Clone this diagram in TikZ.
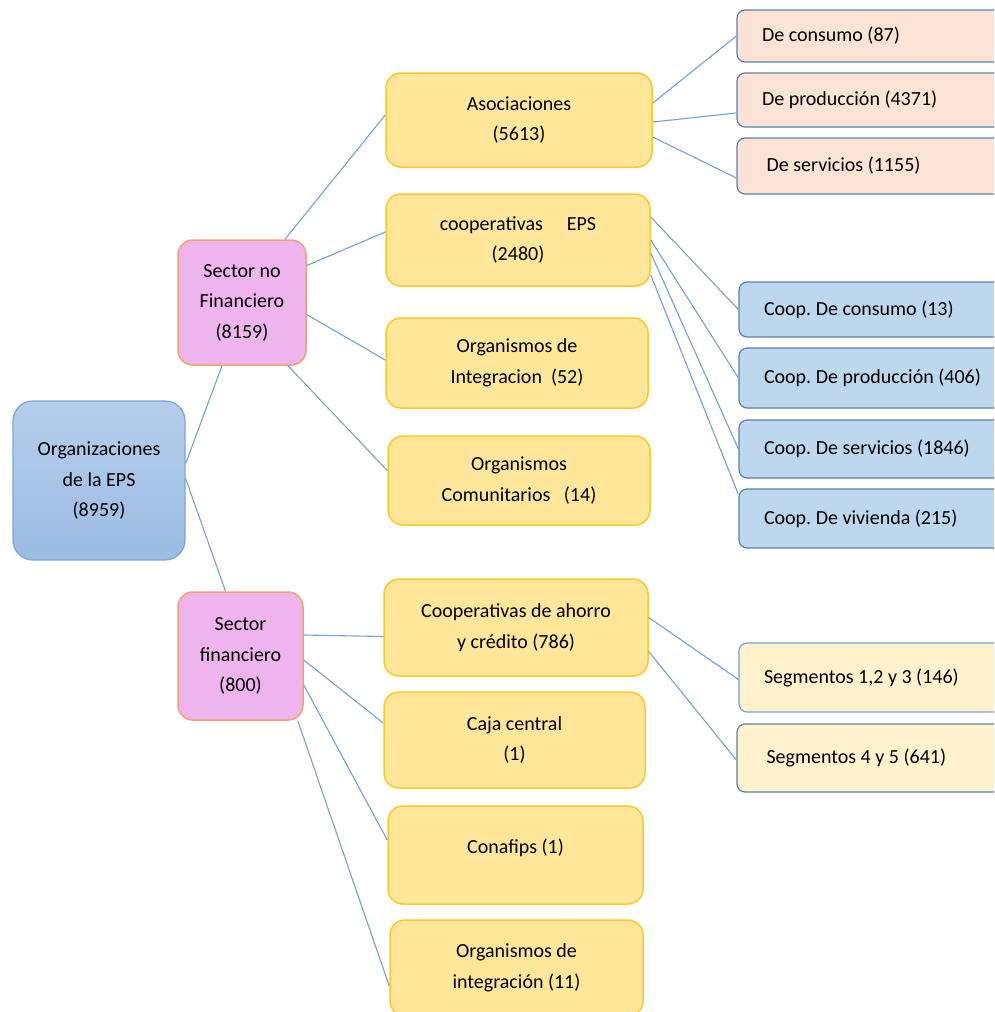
\documentclass[tikz,border=0pt]{standalone}
\usepackage{fontspec}
\setmainfont{Carlito}
\frenchspacing
\definecolor{linkblue}{HTML}{6FA3D8}
\definecolor{goldfill}{HTML}{FFE699}
\definecolor{golddraw}{HTML}{FFC829}
\definecolor{pinkfill}{HTML}{EEB4EE}
\definecolor{pinkdraw}{HTML}{F2A26E}
\definecolor{peachfill}{HTML}{FBE3D6}
\definecolor{slatedraw}{HTML}{5A80AC}
\definecolor{skyfill}{HTML}{BDD7EE}
\definecolor{creamfill}{HTML}{FFF2CC}
\definecolor{rootdraw}{HTML}{7EA6D6}
\definecolor{roottop}{HTML}{B6CEEB}
\definecolor{rootbottom}{HTML}{9BBCE2}
\tikzset{
  box/.style={rectangle, align=flush center, inner sep=0pt,
    font=\fontsize{20}{30.5}\selectfont},
  rootbox/.style={box, rounded corners=20pt, draw=rootdraw, line width=1.3pt,
    top color=roottop, bottom color=rootbottom},
  sectorbox/.style={box, rounded corners=15pt, fill=pinkfill, draw=pinkdraw, line width=1.5pt},
  goldbox/.style={box, rounded corners=15pt, fill=goldfill, draw=golddraw, line width=1.5pt},
  leafbox/.style={box, rounded corners=8pt, draw=slatedraw, line width=1.2pt,
    minimum width=275pt, text width=225pt, align=flush left},
  link/.style={draw=linkblue, line width=1.1pt}
}
\begin{document}
\begin{tikzpicture}[x=1pt,y=-1pt]
  \useasboundingbox (0,0) rectangle (994,1012);
  \clip (0,0) rectangle (994,1012);
  % first and second level
  \node[rootbox, minimum width=172pt, minimum height=159pt] (root) at (99,480.5) {Organizaciones\\de la EPS\\(8959)};
  \node[sectorbox, minimum width=128pt, minimum height=125pt] (snf) at (242,302.5) {Sector no\\Financiero\\(8159)};
  \node[sectorbox, minimum width=125pt, minimum height=128pt] (sf) at (240.5,656) {Sector\\financiero\\(800)};
  % third level
  \node[goldbox, minimum width=266pt, minimum height=94pt] (asoc) at (519,120) {Asociaciones\\(5613)};
  \node[goldbox, minimum width=264pt, minimum height=92pt] (coopeps) at (518,240) {cooperativas\hspace{1.2em}EPS\\(2480)};
  \node[goldbox, minimum width=262pt, minimum height=90pt] (orgint) at (517,363) {Organismos de\\Integracion\ \ (52)};
  \node[goldbox, minimum width=262pt, minimum height=89pt] (orgcom) at (519,480.5) {Organismos\\Comunitarios\ \ \ (14)};
  \node[goldbox, minimum width=264pt, minimum height=97pt] (ahorro) at (516,627.5) {Cooperativas de ahorro\\y crédito (786)};
  \node[goldbox, minimum width=261pt, minimum height=96pt] (caja) at (514.5,740) {Caja central\\(1)};
  \node[goldbox, minimum width=255pt, minimum height=98pt] (conafips) at (515.5,855) {\raisebox{18pt}{Conafips (1)}};
  \node[goldbox, minimum width=253pt, minimum height=96pt] (orgfin) at (516.5,968) {Organismos de\\integración (11)};
  % fourth level
  \node[leafbox, fill=peachfill, minimum height=52pt] (decons) at (874.5,36) {De consumo (87)};
  \node[leafbox, fill=peachfill, minimum height=54pt] (deprod) at (874.5,100) {De producción (4371)};
  \node[leafbox, fill=peachfill, minimum height=56pt] (deserv) at (874.5,166) {\ De servicios (1155)};
  \node[leafbox, fill=skyfill, minimum height=55pt] (cpcons) at (876.5,309.5) {Coop. De consumo (13)};
  \node[leafbox, fill=skyfill, minimum height=60pt] (cpprod) at (876.5,378) {Coop. De producción (406)};
  \node[leafbox, fill=skyfill, minimum height=58pt] (cpserv) at (876.5,449) {Coop. De servicios (1846)};
  \node[leafbox, fill=skyfill, minimum height=59pt] (cpviv) at (876.5,518.5) {Coop. De vivienda (215)};
  \node[leafbox, fill=creamfill, draw=linkblue, minimum height=69pt] (seguno) at (876.5,677.5) {Segmentos 1,2 y 3 (146)};
  \node[leafbox, fill=creamfill, minimum height=68pt] (segdos) at (874.5,758) {\ Segmentos 4 y 5 (641)};
  % connectors
  \draw[link] ([yshift=17pt]root.east) -- ([xshift=-20pt]snf.south);
  \draw[link] ([yshift=2pt]root.east) -- ([xshift=-15pt]sf.north);
  \draw[link] ([xshift=43pt]snf.north) -- ([yshift=5pt]asoc.west);
  \draw[link] ([yshift=37pt]snf.east) -- ([yshift=8pt]coopeps.west);
  \draw[link] ([yshift=-12pt]snf.east) -- ([yshift=3pt]orgint.west);
  \draw[link] ([xshift=46pt]snf.south) -- ([yshift=10pt]orgcom.west);
  \draw[link] ([yshift=17pt]asoc.east) -- (decons.west);
  \draw[link] ([yshift=-2pt]asoc.east) -- ([yshift=-13pt]deprod.west);
  \draw[link] ([yshift=-17pt]asoc.east) -- ([yshift=-12pt]deserv.west);
  \draw[link] ([yshift=23pt]coopeps.east) -- (cpcons.west);
  \draw[link] (coopeps.east) -- (cpprod.west);
  \draw[link] ([yshift=-13pt]coopeps.east) -- (cpserv.west);
  \draw[link] ([yshift=-35pt]coopeps.east) -- ([yshift=24pt]cpviv.west);
  \draw[link] ([yshift=21pt]sf.east) -- ([yshift=-9pt]ahorro.west);
  \draw[link] ([yshift=-4pt]sf.east) -- ([yshift=17pt]caja.west);
  \draw[link] ([yshift=-29pt]sf.east) -- ([yshift=15pt]conafips.west);
  \draw[link] ([xshift=-6pt]sf.south east) -- ([yshift=-18pt]orgfin.west);
  \draw[link] ([yshift=10pt]ahorro.east) -- ([yshift=-2pt]seguno.west);
  \draw[link] ([yshift=-24pt]ahorro.east) -- ([yshift=-2pt]segdos.west);
\end{tikzpicture}
\end{document}
